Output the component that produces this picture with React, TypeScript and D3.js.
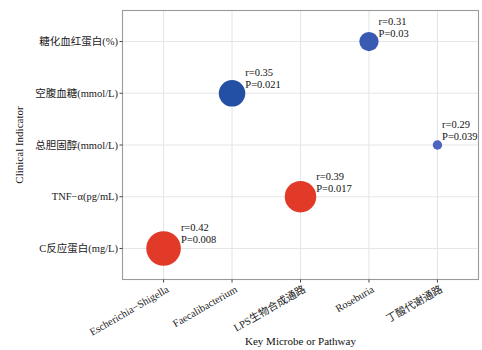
import React from "react";
import * as d3 from "d3";

// Axis categories
const microbes = ["Escherichia−Shigella", "Faecalibacterium", "LPS生物合成通路", "Roseburia", "丁酸代谢通路"];
const indicators = ["糖化血红蛋白(%)", "空腹血糖(mmol/L)", "总胆固醇(mmol/L)", "TNF−α(pg/mL)", "C反应蛋白(mg/L)"];

// Significant correlations
const pointMicrobe = ["Escherichia−Shigella", "Faecalibacterium", "LPS生物合成通路", "Roseburia", "丁酸代谢通路"];
const pointIndicator = ["C反应蛋白(mg/L)", "空腹血糖(mmol/L)", "TNF−α(pg/mL)", "糖化血红蛋白(%)", "总胆固醇(mmol/L)"];
const rValues = [0.42, 0.35, 0.39, 0.31, 0.29];
const pValues = ["0.008", "0.021", "0.017", "0.03", "0.039"];
const groups = ["inflammation", "metabolic", "inflammation", "metabolic", "metabolic"];

const W = 482;
const H = 350;
const left = 122.5;
const right = 478.5;
const top = 10.5;
const bottom = 279.5;

const serif = "'Liberation Serif', 'Times New Roman', 'Noto Sans CJK SC', serif";

export default function App() {
  const x = d3.scalePoint<string>().domain(microbes).range([left, right]).padding(0.6);
  const y = d3.scalePoint<string>().domain(indicators).range([top, bottom]).padding(0.6);

  const ext = d3.extent(rValues) as [number, number];
  const norm = d3.scaleLinear().domain(ext).range([0, 1]);
  const rad = d3.scaleLinear().domain([0, 1]).range([4.7, 17.3]);
  const radius = (r: number) => rad(Math.sqrt(norm(r)));

  // metabolic bubbles shade lighter as P grows
  const pNums = pValues.map(Number);
  const blue = d3
    .scaleLinear<string>()
    .domain([0.021, 0.039])
    .range(["#2350a3", "#4c63bf"]);
  const fill = (i: number) => (groups[i] === "inflammation" ? "#e13a29" : blue(pNums[i]));

  const points = rValues.map((r, i) => ({
    cx: x(pointMicrobe[i])!,
    cy: y(pointIndicator[i])!,
    rr: radius(r),
    r,
    p: pValues[i],
    i,
  }));

  return (
    <svg
      width={W}
      height={H}
      style={{ position: "absolute", left: 0, top: 0, background: "#fff" }}
      fontFamily={serif}
    >
      <rect x={0} y={0} width={W} height={H} fill="#fff" />
      {/* grid */}
      {microbes.map((m) => (
        <line key={"gx" + m} x1={x(m)} x2={x(m)} y1={top} y2={bottom} stroke="#e6e6e6" strokeWidth={1.1} />
      ))}
      {indicators.map((d) => (
        <line key={"gy" + d} x1={left} x2={right} y1={y(d)} y2={y(d)} stroke="#e6e6e6" strokeWidth={1.1} />
      ))}
      {/* bubbles */}
      {points.map((d) => (
        <circle key={"c" + d.i} cx={d.cx} cy={d.cy} r={d.rr} fill={fill(d.i)} />
      ))}
      {/* value labels */}
      {points.map((d) => (
        <text key={"t" + d.i} x={d.cx + d.rr} y={d.cy - 17} fontSize={10.5} fill="#111">
          <tspan x={d.cx + d.rr}>{`r=${d.r.toFixed(2)}`}</tspan>
          <tspan x={d.cx + d.rr} dy={12}>{`P=${d.p}`}</tspan>
        </text>
      ))}
      {/* panel border */}
      <rect x={left} y={top} width={right - left} height={bottom - top} fill="none" stroke="#9a9a9a" strokeWidth={1.1} />
      {/* y axis */}
      {indicators.map((d) => (
        <g key={"yt" + d}>
          <line x1={left - 3} x2={left} y1={y(d)} y2={y(d)} stroke="#444" strokeWidth={1} />
          <text x={left - 4.5} y={y(d)} dy="0.35em" textAnchor="end" fontSize={10.5} fill="#1a1a1a">
            {d}
          </text>
        </g>
      ))}
      {/* x axis */}
      {microbes.map((m) => (
        <g key={"xt" + m}>
          <line x1={x(m)} x2={x(m)} y1={bottom} y2={bottom + 3} stroke="#444" strokeWidth={1} />
          <g transform={`translate(${x(m)! + 2},${bottom + 5}) rotate(-30)`}>
            <text textAnchor="end" dy="0.75em" fontSize={10.5} fill="#1a1a1a">
              {m}
            </text>
          </g>
        </g>
      ))}
      {/* axis titles */}
      <text x={(left + right) / 2} y={345} textAnchor="middle" fontSize={11} fill="#111">
        Key Microbe or Pathway
      </text>
      <text
        transform={`translate(23,${(top + bottom) / 2}) rotate(-90)`}
        textAnchor="middle"
        fontSize={11}
        fill="#111"
      >
        Clinical Indicator
      </text>
    </svg>
  );
}
